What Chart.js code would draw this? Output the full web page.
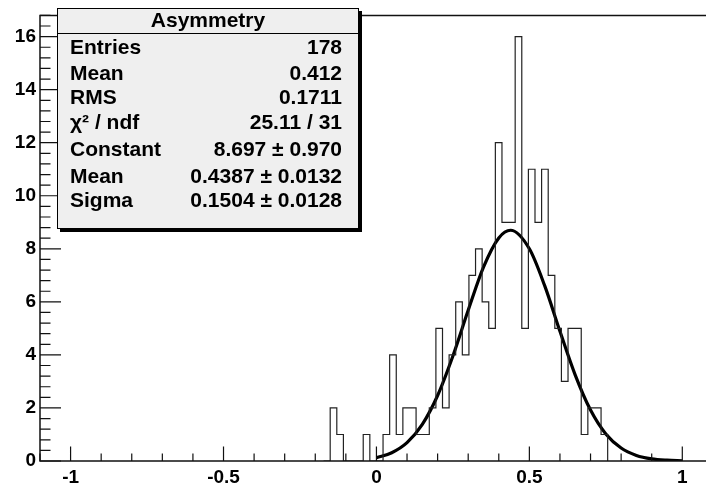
<!DOCTYPE html>
<html>
<head>
<meta charset="utf-8">
<script src="https://cdn.jsdelivr.net/npm/chart.js@4/dist/chart.umd.min.js"></script>
<style>
  html, body { margin: 0; padding: 0; background: #fff; overflow: hidden; }
  canvas { display: block; }
</style>
</head>
<body>
<canvas id="asymChart" width="706" height="485"></canvas>
<script>
// histogram: 100 bins, bin index 0 starts at x = 0
const binWidth = 0.0216;
const firstBin = -7;
const counts = [2, 1, 0, 0, 0, 1, 0, 0, 1, 4, 1, 2, 2, 1, 1, 2, 5, 2, 4, 6, 4,
                7, 8, 6, 5, 12, 9, 9, 16, 5, 11, 9, 11, 7, 5, 3, 5, 5, 1, 2, 2, 1];

// gaussian fit curve
const fitX = [0, 0.05, 0.1, 0.15, 0.2, 0.25, 0.3, 0.35, 0.4, 0.4387, 0.5, 0.55,
              0.6, 0.65, 0.7, 0.75, 0.8, 0.85, 0.9, 0.95, 1.0];
const fitY = [0.12, 0.31, 0.69, 1.38, 2.47, 3.96, 5.68, 7.31, 8.41, 8.70, 8.00, 6.61,
              4.89, 3.24, 1.92, 1.02, 0.49, 0.21, 0.08, 0.03, 0.01];

const xTicks = [-1, -0.5, 0, 0.5, 1];
const yTicks = [0, 2, 4, 6, 8, 10, 12, 14, 16];

const statsTitle = 'Asymmetry';
const statsRows = [
    ['Entries', '178'],
    ['Mean', '0.412'],
    ['RMS', '0.1711'],
    ['\u03c7\u00b2 / ndf', '25.11 / 31'],
    ['Constant', '8.697 \u00b1 0.970'],
    ['Mean', '0.4387 \u00b1 0.0132'],
    ['Sigma', '0.1504 \u00b1 0.0128']
];

const histPts = [{x: (firstBin - 1) * binWidth, y: 0}];
counts.forEach((c, i) => histPts.push({x: (firstBin + i) * binWidth, y: c}));
histPts.push({x: (firstBin + counts.length) * binWidth, y: 0});

const fitPts = fitX.map((x, i) => ({x: x, y: fitY[i]}));

const FONT = 'Liberation Sans, Arial, Helvetica, sans-serif';

// frame, inward tick marks and the stats box, ROOT style
const rootFrame = {
    id: 'rootFrame',
    afterDatasetsDraw(chart) {
        const {ctx, chartArea: a, scales: {x, y}} = chart;
        ctx.save();
        ctx.strokeStyle = '#111';
        ctx.lineWidth = 1.5;
        ctx.beginPath();
        ctx.moveTo(a.right, a.top); ctx.lineTo(a.left, a.top);
        ctx.lineTo(a.left, a.bottom); ctx.lineTo(a.right, a.bottom);
        ctx.stroke();

        ctx.lineWidth = 1.2;
        ctx.beginPath();
        for (let i = -11; i <= 10; i++) {
            const v = i / 10;
            const px = x.getPixelForValue(v);
            if (px < a.left || px > a.right) continue;
            const len = (i % 5 === 0) ? 14.5 : 7.5;
            ctx.moveTo(px, a.bottom); ctx.lineTo(px, a.bottom - len);
        }
        for (let i = 0; i <= 42; i++) {
            const v = i * 0.4;
            const py = y.getPixelForValue(v);
            if (py < a.top) continue;
            const len = (i % 5 === 0) ? 21 : 10.5;
            ctx.moveTo(a.left, py); ctx.lineTo(a.left + len, py);
        }
        ctx.stroke();
        ctx.restore();
    },
    afterDraw(chart) {
        const ctx = chart.ctx;
        const bx = 57, by = 8, bw = 302, bh = 221;
        ctx.save();
        ctx.fillStyle = '#000';
        ctx.fillRect(bx + 3, by + 3, bw, bh);
        ctx.fillStyle = '#efefef';
        ctx.fillRect(bx, by, bw, bh);
        ctx.strokeStyle = '#000';
        ctx.lineWidth = 1;
        ctx.strokeRect(bx + 0.5, by + 0.5, bw - 1, bh - 1);
        ctx.beginPath();
        ctx.moveTo(bx, 33.5); ctx.lineTo(bx + bw, 33.5);
        ctx.stroke();

        ctx.fillStyle = '#000';
        ctx.font = 'bold 21px ' + FONT;
        ctx.textBaseline = 'middle';
        ctx.textAlign = 'center';
        ctx.fillText(statsTitle, bx + bw / 2, 21);
        const rowY = [48, 74, 98, 123, 150, 177, 201];
        statsRows.forEach((r, i) => {
            ctx.textAlign = 'left';
            ctx.fillText(r[0], 70, rowY[i]);
            ctx.textAlign = 'right';
            ctx.fillText(r[1], 342, rowY[i]);
        });
        ctx.restore();
    }
};

const ctx = document.getElementById('asymChart').getContext('2d');
const asymChart = new Chart(ctx, {
    type: 'line',
    data: {
        datasets: [{
            label: 'Asymmetry',
            data: histPts,
            stepped: 'before',
            borderColor: '#222',
            borderWidth: 1.2,
            pointRadius: 0,
            fill: false
        }, {
            label: 'gaus',
            data: fitPts,
            borderColor: '#000',
            borderWidth: 3.2,
            pointRadius: 0,
            cubicInterpolationMode: 'monotone',
            fill: false
        }]
    },
    options: {
        responsive: false,
        animation: false,
        layout: { padding: { top: 7, right: 0, left: 0, bottom: 0 } },
        plugins: {
            legend: { display: false },
            tooltip: { enabled: false }
        },
        scales: {
            x: {
                type: 'linear',
                min: -1.1,
                max: 1.0775,
                grid: { display: false, drawTicks: false },
                border: { display: false },
                afterBuildTicks: (s) => { s.ticks = xTicks.map(v => ({value: v})); },
                afterFit: (s) => { s.height = 24; },
                ticks: {
                    color: '#000',
                    padding: 5,
                    maxRotation: 0,
                    autoSkip: false,
                    font: { family: FONT, size: 19, weight: 'bold' },
                    callback: (v) => String(v)
                }
            },
            y: {
                min: 0,
                max: 16.8,
                grid: { display: false, drawTicks: false },
                border: { display: false },
                afterBuildTicks: (s) => { s.ticks = yTicks.map(v => ({value: v})); },
                afterFit: (s) => { s.width = 40; },
                ticks: {
                    color: '#000',
                    padding: 4,
                    autoSkip: false,
                    font: { family: FONT, size: 19, weight: 'bold' },
                    callback: (v) => String(v)
                }
            }
        }
    },
    plugins: [rootFrame]
});
</script>
</body>
</html>
